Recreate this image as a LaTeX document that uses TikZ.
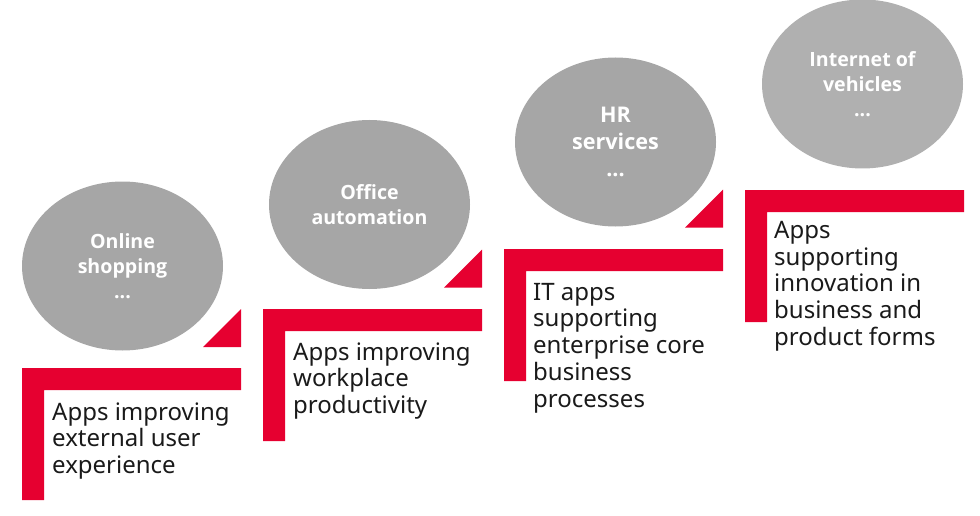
\documentclass[tikz,border=0pt]{standalone}
\usepackage{fontspec}
\setmainfont{Noto Sans}
\newfontfamily\bubblefont{Open Sans}
\usetikzlibrary{shapes.geometric}
\definecolor{stepred}{HTML}{E60030}
\definecolor{bubblegray}{HTML}{A6A6A6}
\definecolor{bubblelight}{HTML}{B0B0B0}
\definecolor{bodytext}{HTML}{1A1A1A}
\tikzset{
  bubble/.style={ellipse, fill=bubblegray, draw=none, inner sep=0pt,
    minimum width=201pt, minimum height=169pt, text=white, align=center,
    font=\bubblefont\bfseries\fontsize{19.6}{25}\selectfont},
  % anchored at the baseline of the last line
  steptext/.style={anchor=base west, inner sep=0pt, align=left, text=bodytext,
    font=\fontsize{24}{26.8}\selectfont}
}
\begin{document}
\begin{tikzpicture}[x=1pt, y=-1pt]
  \useasboundingbox (0,0) rectangle (980,516);

  % grey bubbles
  \node[bubble] (b1) at (122.5,266) {Online\\shopping\\...};
  \node[bubble] (b2) at (369.5,204.5) {Office\\automation};
  \node[bubble, font=\bubblefont\bfseries\fontsize{21.6}{27}\selectfont] (b3) at (615.5,142) {HR\\services\\...};
  \node[bubble, fill=bubblelight] (b4) at (862.5,84) {Internet of\\vehicles\\...};

  % red L-shaped steps: bar width 219, thickness 22, height 132
  \foreach \x/\y in {22/368, 263/309, 504/249, 745/190}{
    \fill[stepred] (\x,\y) -- ++(219,0) -- ++(0,22) -- ++(-197,0)
      -- ++(0,110) -- ++(-22,0) -- cycle;
  }

  % small red corner triangles
  \foreach \r/\b in {241/347, 482/287.5, 723/227.5}{
    \fill[stepred] (\r,\b) -- ++(0,-38) -- ++(-38,38) -- cycle;
  }

  % step descriptions
  \node[steptext] (t1) at (52,473.6) {Apps improving\\external user\\experience};
  \node[steptext] (t2) at (293,413.6) {Apps improving\\workplace\\productivity};
  \node[steptext] (t3) at (533,407.2) {IT apps\\supporting\\enterprise core\\business\\processes};
  \node[steptext] (t4) at (774,345.5) {Apps\\supporting\\innovation in\\business and\\product forms};
\end{tikzpicture}
\end{document}
